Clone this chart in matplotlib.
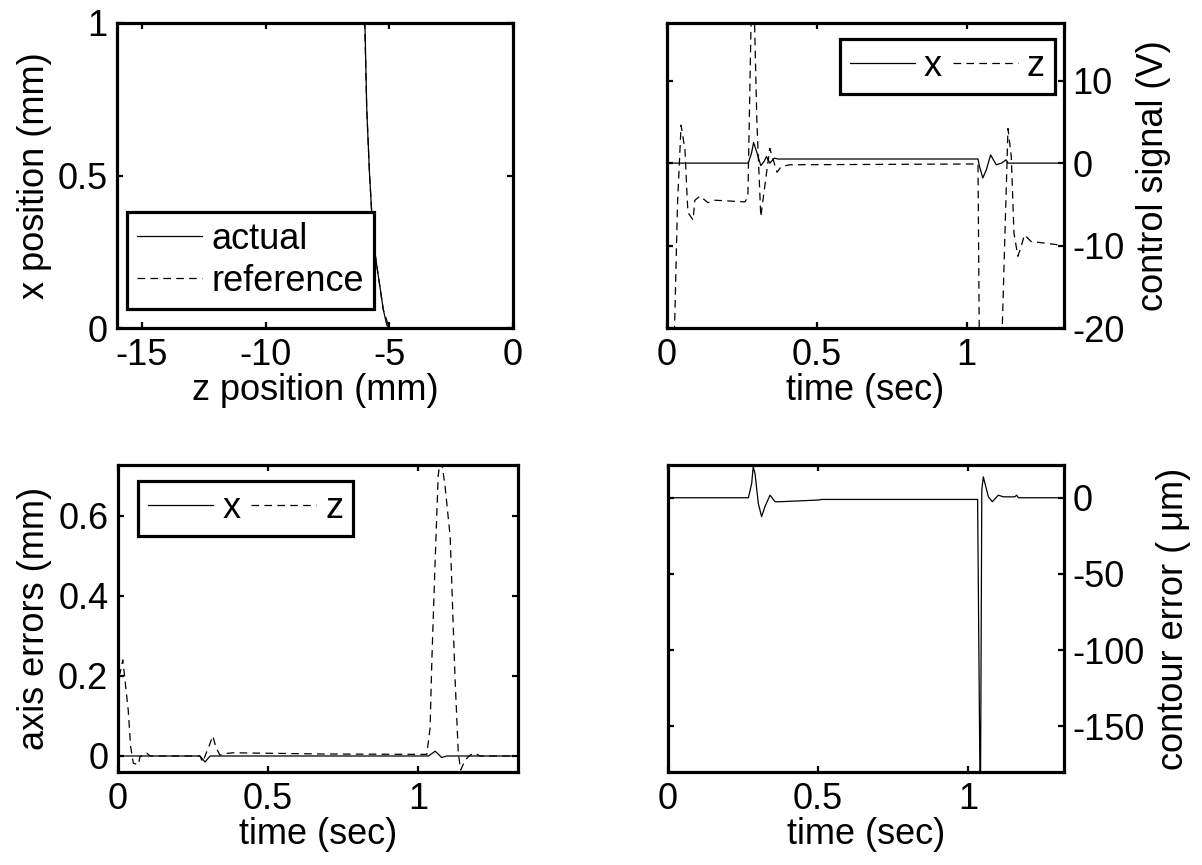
import matplotlib
matplotlib.use("Agg")
import matplotlib.pyplot as plt

plt.rcParams['font.family'] = ['Liberation Sans', 'DejaVu Sans']
plt.rcParams['font.size'] = 26
plt.rcParams['lines.scale_dashes'] = False
plt.rcParams['axes.linewidth'] = 2.3
plt.rcParams['axes.unicode_minus'] = False

# ---------------- data ----------------
# top-left: x position vs z position
actual_z = [-16, -6.05, -6.0, -5.98, -5.91, -5.80, -5.64, -5.24, -5.10, -5.0]
actual_x = [1.0, 1.0, 1.0, 0.99, 0.72, 0.51, 0.28, 0.06, 0.01, 0.0]
ref_z = [-16, -6.95, -6.8, -6.65, -6.05, -5.99, -5.91, -5.80, -5.64, -5.24, -5.0]
ref_x = [1.0, 1.0, 0.995, 1.0, 1.0, 0.99, 0.72, 0.51, 0.28, 0.06, 0.0]

# top-right: control signal (V)
cx_t = [0, 0.271, 0.282, 0.289, 0.299, 0.313, 0.324, 0.332, 0.343, 0.358, 0.371,
        1.038, 1.043, 1.054, 1.066, 1.080, 1.099, 1.116, 1.132, 1.138, 1.325]
cx_v = [0, 0, 1.2, 2.5, 1.4, -0.3, 0.2, 0.8, 0.0, 0.6, 0.5,
        0.5, -0.4, -1.8, -0.8, 1.0, -0.2, 0.0, 0.4, 0.0, 0.0]
cz_t = [0, 0.022, 0.035, 0.047, 0.060, 0.067, 0.070, 0.087, 0.093, 0.110, 0.137, 0.160,
        0.260, 0.270, 0.283, 0.289, 0.300, 0.313, 0.343, 0.367, 0.382, 0.410,
        1.038, 1.043, 1.115, 1.138, 1.149, 1.158, 1.171, 1.182, 1.193, 1.215, 1.260, 1.325]
cz_v = [-30, -25, -5, 4.6, 1.6, -4.0, -6.0, -6.9, -4.5, -4.0, -4.8, -4.5,
        -4.7, -4.1, 22, 22, 5, -6.5, 1.8, -1.1, -0.4, -0.2,
        -0.1, -25, -25, 4.2, 0.8, -8.5, -11.3, -10.1, -8.7, -9.5, -9.7, -10.0]

# bottom-left: axis errors (mm)
ex_t = [0, 0.273, 0.290, 0.307, 1.035, 1.057, 1.079, 1.095, 1.325]
ex_v = [0, 0, -0.015, 0, 0, 0.012, -0.004, 0, 0]
ez_t = [0, 0.007, 0.016, 0.034, 0.042, 0.051, 0.068, 0.073, 0.096, 0.107,
        0.273, 0.282, 0.301, 0.316, 0.327, 0.340, 0.357, 0.384, 0.684, 1.029,
        1.040, 1.046, 1.057, 1.067, 1.076, 1.090, 1.107, 1.123, 1.134, 1.142,
        1.157, 1.173, 1.190, 1.206, 1.325]
ez_v = [0.2, 0.207, 0.24, 0.115, 0.024, -0.018, -0.022, -0.002, 0.007, 0.0,
        0.0, -0.015, 0.02, 0.05, 0.02, 0.002, 0.006, 0.008, 0.005, 0.004,
        0.07, 0.24, 0.49, 0.70, 0.75, 0.673, 0.548, 0.198, 0.007, -0.035,
        -0.01, 0.002, 0.007, 0.0, 0.0]

# bottom-right: contour error (um)
ce_t = [0, 0.268, 0.279, 0.284, 0.290, 0.301, 0.312, 0.323, 0.340, 0.357, 0.373,
        0.501, 0.512, 1.032, 1.0405, 1.0415, 1.046, 1.051, 1.068, 1.081, 1.101,
        1.118, 1.156, 1.162, 1.168, 1.325]
ce_v = [0, 0, 9.4, 20.3, 16, -3.7, -12.4, -5.9, 1.7, -2.6, -2.6,
        -1.5, -1.1, -1.1, -200, -200, 5, 13.7, 0.6, -2.6, 1.7,
        0.6, 0.6, 1.7, 0, 0]

x_ticks_tl = [-15, -10, -5, 0]
y_ticks_tl = [0, 0.5, 1]
t_ticks = [0, 0.5, 1]
y_ticks_tr = [-20, -10, 0, 10]
y_ticks_bl = [0, 0.2, 0.4, 0.6]
y_ticks_br = [-150, -100, -50, 0]

# ---------------- figure ----------------
W, H = 1202, 865
fig = plt.figure(figsize=(W / 100, H / 100), dpi=100)

def px_axes(l, t, r, b):
    return fig.add_axes([l / W, (H - b) / H, (r - l) / W, (b - t) / H])

ax_tl = px_axes(117, 23, 513, 328)
ax_tr = px_axes(667, 23, 1064, 328)
ax_bl = px_axes(118, 465, 518, 772)
ax_br = px_axes(668, 465, 1064, 772)

LW = 0.9
DASH = dict(linestyle=(0, (5.5, 3.8)))

def style(ax, right=False):
    ax.tick_params(direction='in', length=4, width=1.6, top=True, bottom=True,
                   left=True, right=True, pad=7, labelsize=26)
    if right:
        ax.tick_params(axis='y', labelleft=False, labelright=True, pad=6)
        ax.yaxis.set_label_position('right')
    for s in ax.spines.values():
        s.set_linewidth(2.3)

def leg(ax, **kw):
    lg = ax.legend(fontsize=26, frameon=True, fancybox=False, framealpha=1,
                   edgecolor='black', borderaxespad=0, borderpad=0.28,
                   handlelength=1.8, handletextpad=0.25, labelspacing=0.2,
                   columnspacing=0.3, **kw)
    lg.get_frame().set_linewidth(2.3)
    return lg

# top-left
ax = ax_tl
ax.plot(actual_z, actual_x, color='black', lw=LW, label='actual')
ax.plot(ref_z, ref_x, color='black', lw=LW, label='reference', **DASH)
ax.set_xlim(-16, 0)
ax.set_ylim(0, 1)
ax.set_xticks(x_ticks_tl)
ax.set_yticks(y_ticks_tl)
ax.set_yticklabels(['0', '0.5', '1'])
ax.set_xlabel('z position (mm)', labelpad=0)
ax.set_ylabel('x position (mm)', labelpad=4)
style(ax)
leg(ax, loc='lower left', bbox_to_anchor=(0.025, 0.062))

# top-right
ax = ax_tr
ax.plot(cx_t, cx_v, color='black', lw=LW, label='x')
ax.plot(cz_t, cz_v, color='black', lw=LW, label='z', **DASH)
ax.set_xlim(0, 1.325)
ax.set_ylim(-20, 17)
ax.set_xticks(t_ticks)
ax.set_xticklabels(['0', '0.5', '1'])
ax.set_yticks(y_ticks_tr)
ax.set_xlabel('time (sec)', labelpad=0)
ax.set_ylabel('control signal (V)', labelpad=8)
style(ax, right=True)
leg(ax, loc='upper right', bbox_to_anchor=(0.977, 0.948), ncol=2)

# bottom-left
ax = ax_bl
ax.plot(ex_t, ex_v, color='black', lw=LW, label='x')
ax.plot(ez_t, ez_v, color='black', lw=LW, label='z', **DASH)
ax.set_xlim(0, 1.333)
ax.set_ylim(-0.04, 0.727)
ax.set_xticks(t_ticks)
ax.set_xticklabels(['0', '0.5', '1'])
ax.set_yticks(y_ticks_bl)
ax.set_yticklabels(['0', '0.2', '0.4', '0.6'])
ax.set_xlabel('time (sec)', labelpad=0)
ax.set_ylabel('axis errors (mm)', labelpad=4)
style(ax)
leg(ax, loc='upper left', bbox_to_anchor=(0.05, 0.948), ncol=2)

# bottom-right
ax = ax_br
ax.plot(ce_t, ce_v, color='black', lw=LW)
ax.set_xlim(0, 1.32)
ax.set_ylim(-180, 21.5)
ax.set_xticks(t_ticks)
ax.set_xticklabels(['0', '0.5', '1'])
ax.set_yticks(y_ticks_br)
ax.set_xlabel('time (sec)', labelpad=0)
ax.set_ylabel('contour error ( \u03bcm)', labelpad=8)
style(ax, right=True)

fig.savefig('out.png', dpi=100)
